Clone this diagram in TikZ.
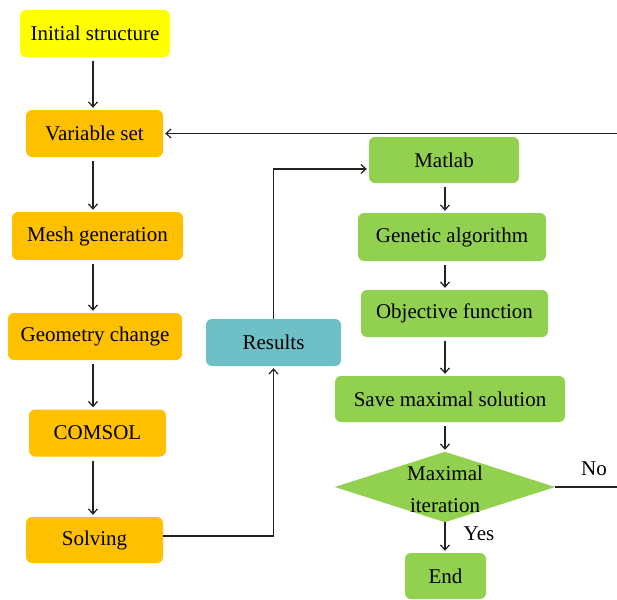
\documentclass[tikz,border=0pt]{standalone}
\usepackage{fontspec}
\setmainfont{Liberation Serif}
\usetikzlibrary{arrows.meta}

\definecolor{boxyellow}{HTML}{FFFF00}
\definecolor{boxorange}{HTML}{FFC000}
\definecolor{boxgreen}{HTML}{92D050}
\definecolor{boxteal}{HTML}{6FBFC6}
\definecolor{linegray}{HTML}{222222}

\tikzset{
  box/.style={rounded corners=6pt, inner sep=0pt, text=black,
    font=\fontsize{21}{24}\selectfont},
  yellowbox/.style={box, fill=boxyellow},
  orangebox/.style={box, fill=boxorange},
  greenbox/.style={box, fill=boxgreen},
  tealbox/.style={box, fill=boxteal},
  label/.style={text=black, font=\fontsize{21}{24}\selectfont},
  flow/.style={->, draw=linegray, line width=1.2pt, shorten >=2pt, shorten <=4pt},
  >={Straight Barb[length=5pt,width=9pt]}
}

\begin{document}
\begin{tikzpicture}[x=1pt,y=-1pt]
    \clip (0,0) rectangle (617,599);
    \fill[white] (0,0) rectangle (617,599);

    % Left column (COMSOL side)
    \node[yellowbox, minimum width=150pt, minimum height=47pt] (init) at (95,33.5) {Initial structure};
    \node[orangebox, minimum width=137pt, minimum height=47pt] (var) at (94.5,133.5) {Variable set};
    \node[orangebox, minimum width=171pt, minimum height=48pt] (mesh) at (97.5,236) {Mesh generation};
    \node[orangebox, minimum width=174pt, minimum height=47pt] (geo) at (95,336.5) {Geometry change};
    \node[orangebox, minimum width=137pt, minimum height=47pt] (comsol) at (97.5,433) {COMSOL};
    \node[orangebox, minimum width=137pt, minimum height=46pt] (solve) at (94.5,540) {Solving};

    % Middle
    \node[tealbox, minimum width=135pt, minimum height=47pt] (results) at (273.5,342.5) {Results};

    % Right column (Matlab side)
    \node[greenbox, minimum width=150pt, minimum height=46pt] (matlab) at (444,160) {Matlab};
    \node[greenbox, minimum width=188pt, minimum height=48pt] (ga) at (452,237) {Genetic algorithm};
    \node[greenbox, minimum width=187pt, minimum height=47pt] (obj) at (454.5,313.5) {Objective function};
    \node[greenbox, minimum width=230pt, minimum height=46pt] (save) at (450,399) {Save maximal solution};
    % decision diamond
    \node[inner sep=0pt, minimum width=220pt, minimum height=70pt] (decide) at (445,487) {};
    \fill[boxgreen] (decide.north) -- (decide.east) -- (decide.south) -- (decide.west) -- cycle;
    \node[label, align=center, font=\fontsize{21}{32}\selectfont] (decidetext) at (445,489) {Maximal\\iteration};
    \node[greenbox, minimum width=81pt, minimum height=46pt] (end) at (445.5,576) {End};

    % Left column arrows
    \coordinate (lcol) at (93,0);
    \foreach \a/\b in {init/var, var/mesh, mesh/geo, geo/comsol, comsol/solve} {
        \draw[flow] (\a.south -| lcol) -- (\b.north -| lcol);
    }

    % Right column arrows
    \coordinate (rcol) at (445,0);
    \foreach \a/\b in {matlab/ga, ga/obj, obj/save, save/decide} {
        \draw[flow] (\a.south -| rcol) -- (\b.north -| rcol);
    }
    \draw[flow, shorten <=0pt] (decide.south -| rcol) -- (end.north -| rcol);
    \node[label] (yes) at (479,534) {Yes};

    % Links between columns
    \draw[flow, shorten <=0pt] ([yshift=4pt]solve.east) -| (results.south);
    \draw[flow, shorten <=0pt] (results.north) |- ([yshift=-9pt]matlab.west);

    % Feedback loop
    \draw[flow, shorten <=0pt] (decide.east) -- ++(120,0) |- (var.east);
    \node[label] (no) at (594,469) {No};
\end{tikzpicture}
\end{document}
